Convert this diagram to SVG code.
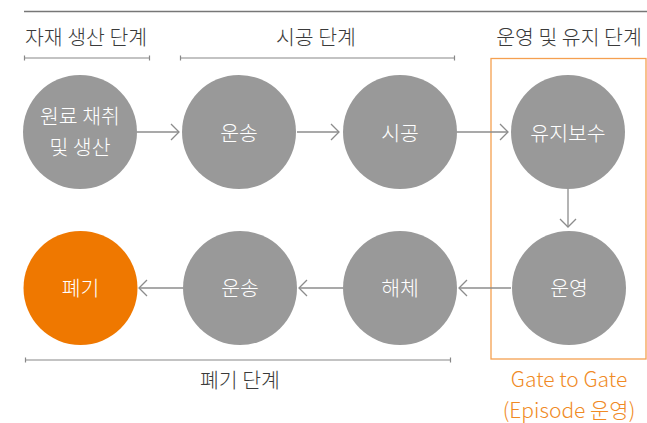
<svg xmlns="http://www.w3.org/2000/svg" width="647" height="423" viewBox="0 0 647 423">
<defs>
<style>
.t{font-family:"Noto Sans CJK KR","Noto Sans",sans-serif;font-weight:300;}
.h{font-size:20.5px;fill:#3a3a3a;text-anchor:middle;}
.n{font-size:20.5px;fill:#ffffff;text-anchor:middle;}
.o{font-size:21px;fill:#F08A24;text-anchor:middle;}
.c{fill:#999999;}
.rule{stroke:#888888;stroke-width:1.2;fill:none;}
.con{stroke:#8c8c8c;stroke-width:1.3;fill:none;}
</style>
<marker id="arr" markerWidth="12" markerHeight="18" refX="10" refY="9" orient="auto" markerUnits="userSpaceOnUse">
<path d="M2,1 L10,9 L2,17" fill="none" stroke="#8c8c8c" stroke-width="1.3"/>
</marker>
</defs>
<rect width="647" height="423" fill="#ffffff"/>
<line x1="24" y1="11.5" x2="647" y2="11.5" stroke="#777777" stroke-width="1.5"/>
<g id="labels">
<text class="t h" x="86" y="45">자재 생산 단계</text>
<path class="rule" d="M24,58 H150 M24.5,55.5 V60.5 M149.5,55.5 V60.5"/>
<text class="t h" x="316" y="45">시공 단계</text>
<path class="rule" d="M180,58 H455 M180.5,55.5 V60.5 M454.5,55.5 V60.5"/>
<text class="t h" x="569" y="45">운영 및 유지 단계</text>
<path class="rule" d="M25,360 H451 M25.5,357.5 V362.5 M450.5,357.5 V362.5"/>
<text class="t h" x="240" y="388">폐기 단계</text>
</g>
<g id="gate">
<rect x="491" y="58.5" width="155" height="300.5" fill="none" stroke="#F5A050" stroke-width="1.3"/>
<text class="t o" x="569" y="387">Gate to Gate</text>
<text class="t o" x="569" y="418">(Episode 운영)</text>
</g>
<g id="connectors">
<line class="con" x1="137" y1="132" x2="179" y2="132" marker-end="url(#arr)"/>
<line class="con" x1="297" y1="132" x2="339" y2="132" marker-end="url(#arr)"/>
<line class="con" x1="457" y1="132" x2="508" y2="132" marker-end="url(#arr)"/>
<line class="con" x1="568" y1="189" x2="568" y2="227" marker-end="url(#arr)"/>
<line class="con" x1="511" y1="288" x2="459" y2="288" marker-end="url(#arr)"/>
<line class="con" x1="343" y1="288" x2="299" y2="288" marker-end="url(#arr)"/>
<line class="con" x1="183" y1="288" x2="139" y2="288" marker-end="url(#arr)"/>
</g>
<g id="n1"><circle class="c" cx="80" cy="132" r="57"/><text class="t n" x="80" y="124">원료 채취</text><text class="t n" x="80" y="155">및 생산</text></g>
<g id="n2"><circle class="c" cx="239" cy="132" r="57"/><text class="t n" x="239" y="141">운송</text></g>
<g id="n3"><circle class="c" cx="400" cy="132" r="57"/><text class="t n" x="400" y="141">시공</text></g>
<g id="n4"><circle class="c" cx="568" cy="132" r="57"/><text class="t n" x="568" y="141">유지보수</text></g>
<g id="n5"><circle class="c" cx="569" cy="288" r="57"/><text class="t n" x="569" y="296">운영</text></g>
<g id="n6"><circle class="c" cx="400" cy="288" r="57"/><text class="t n" x="400" y="296">해체</text></g>
<g id="n7"><circle class="c" cx="240" cy="288" r="57"/><text class="t n" x="240" y="296">운송</text></g>
<g id="n8"><circle cx="80.5" cy="288" r="57" fill="#EF7800"/><text class="t n" x="80.5" y="296">폐기</text></g>
</svg>
